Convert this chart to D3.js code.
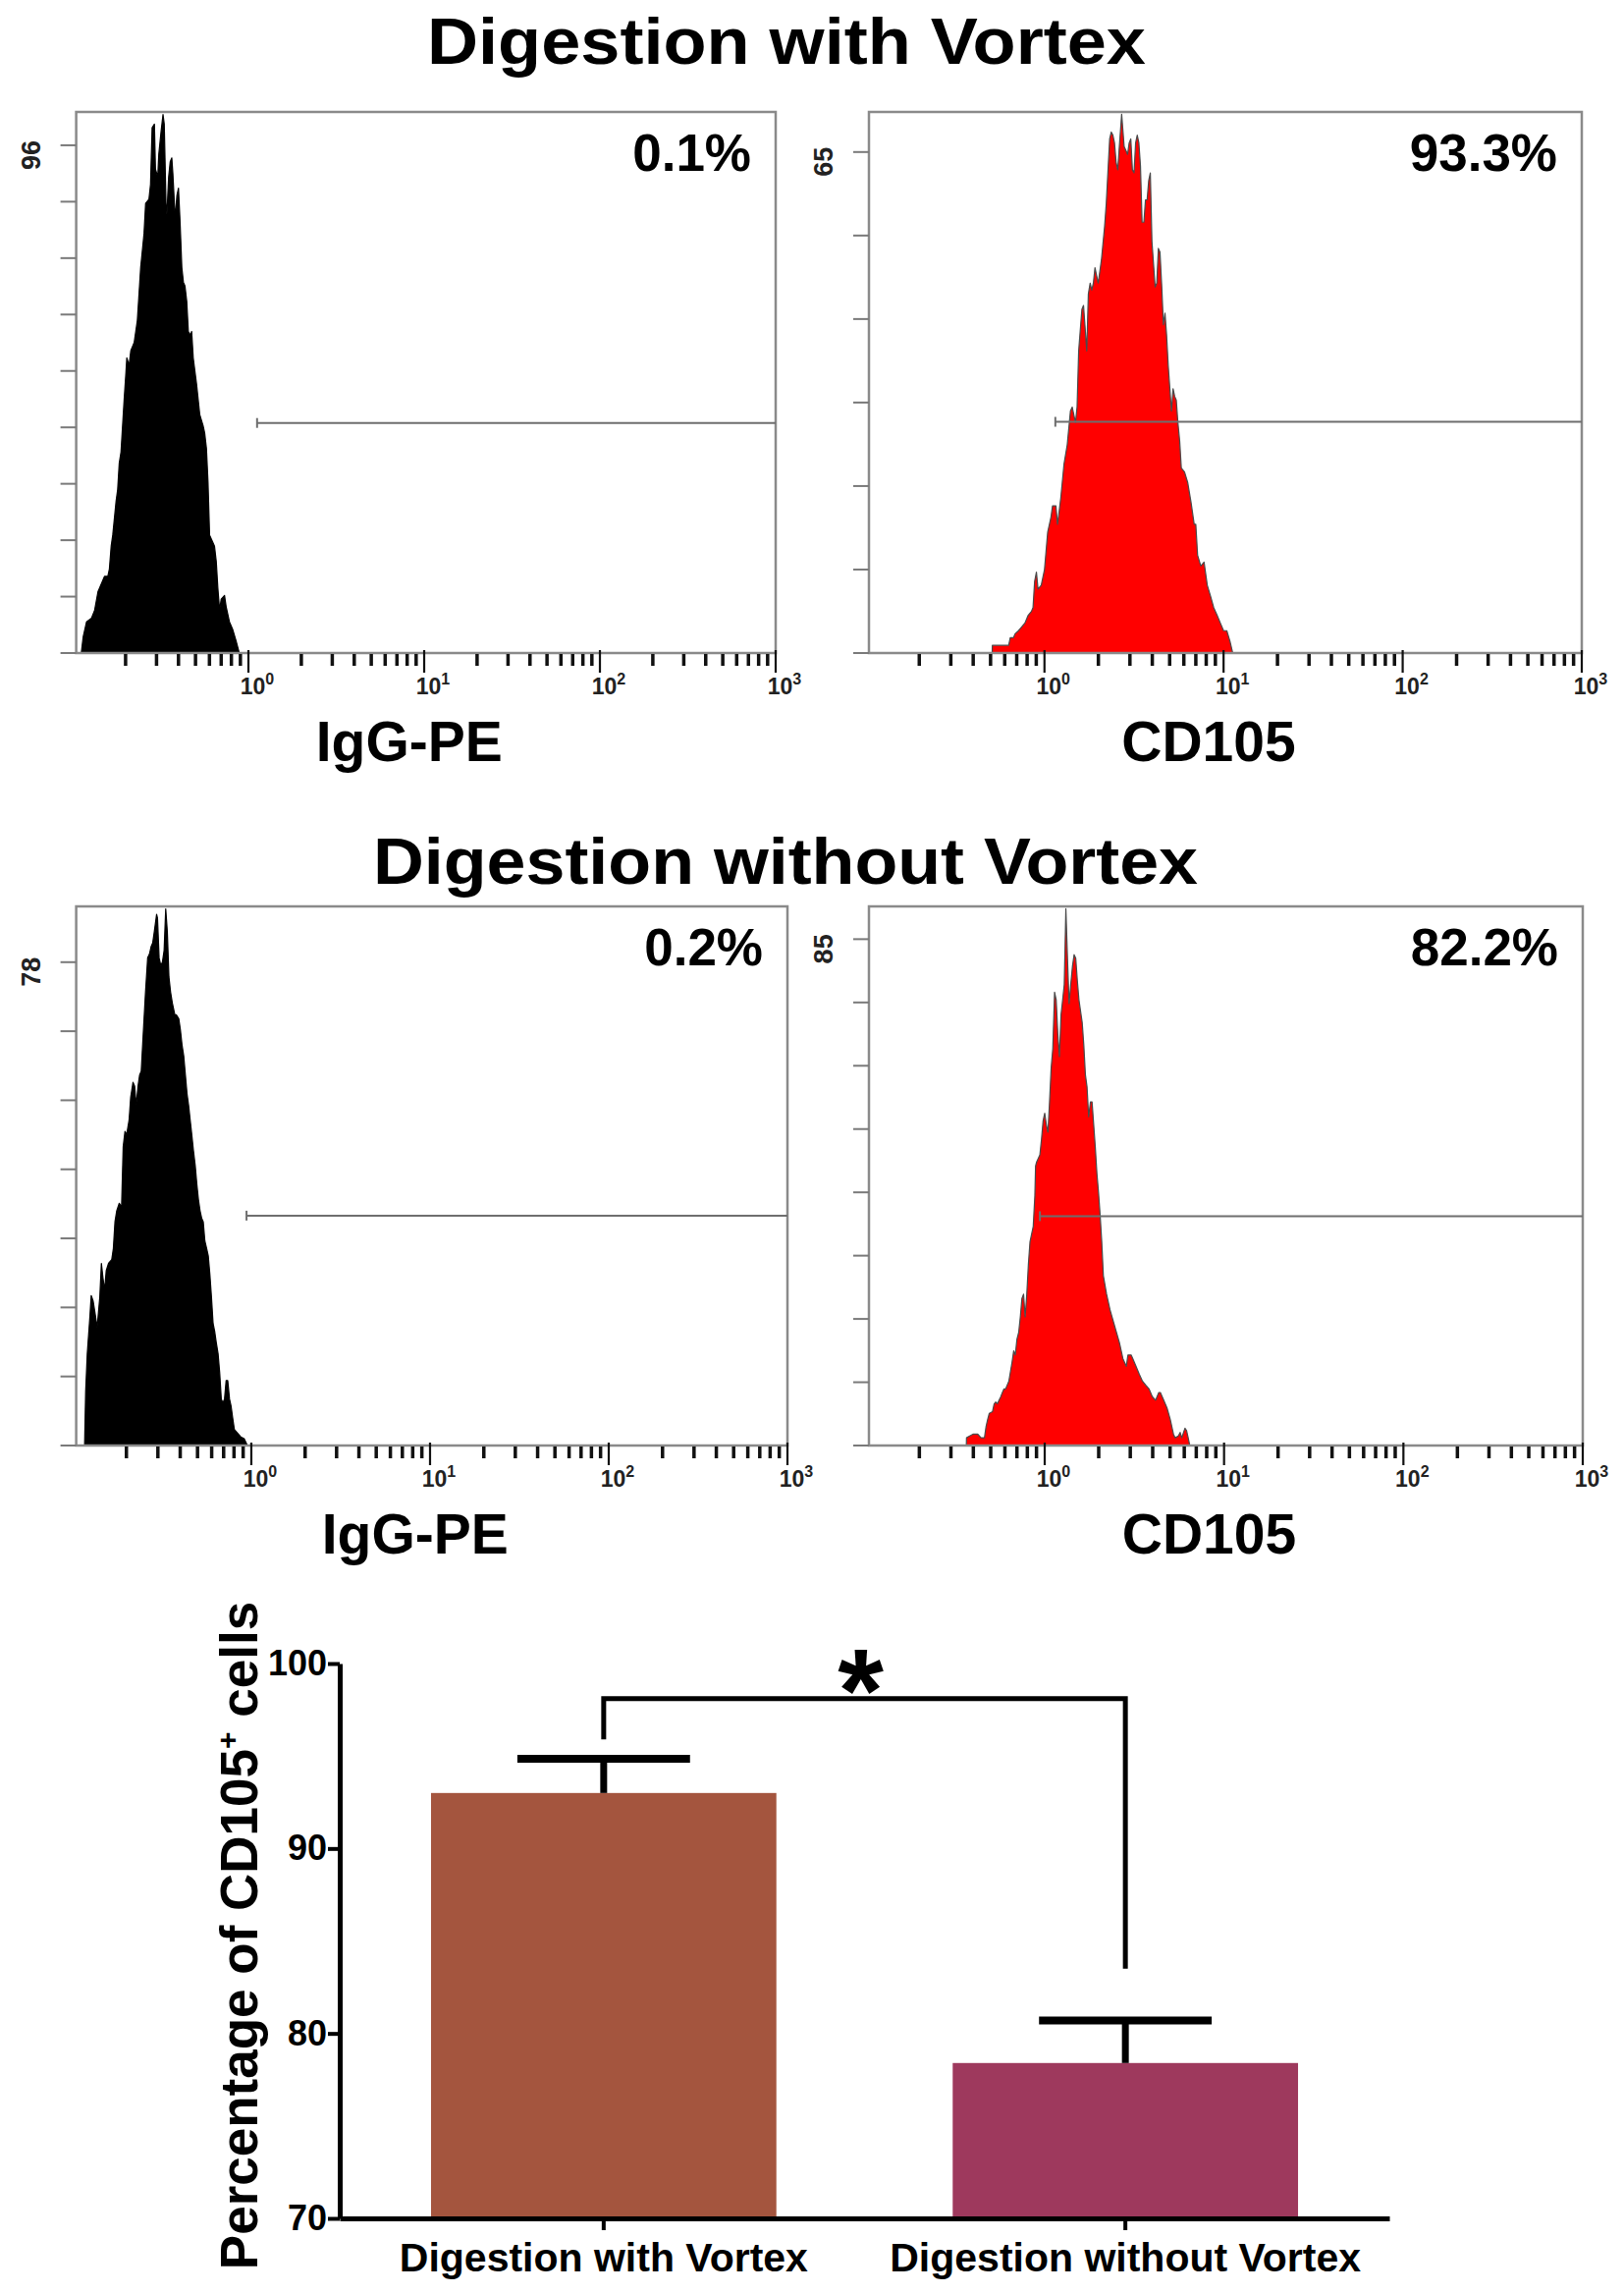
<!DOCTYPE html>
<meta charset="utf-8">
<style>
body { margin: 0; padding: 0; background: #fff; }
text { font-family: "Liberation Sans", Arial, Helvetica, sans-serif; }
.bold { font-weight: bold; }
</style>
<body>
<script src="https://d3js.org/d3.v7.min.js"></script>
<script>
// ---- flow histograms: [log10 fluorescence, count] ----
var igVortex = [[-0.951,0],[-0.940,3.1],[-0.921,5.9],[-0.893,6.6],[-0.875,8.1],[-0.856,11.6],[-0.847,12.3],[-0.819,14.5],[-0.800,14.5],[-0.791,15.9],[-0.781,20.2],[-0.772,22.3],[-0.753,28.7],[-0.744,30.9],[-0.735,35.9],[-0.725,38.0],[-0.707,48.0],[-0.697,53.0],[-0.692,55.8],[-0.679,54.4],[-0.669,57.2],[-0.650,58.7],[-0.632,62.9],[-0.613,72.9],[-0.594,79.3],[-0.585,85.0],[-0.566,85.8],[-0.557,88.6],[-0.548,99.3],[-0.535,100.0],[-0.529,91.5],[-0.516,90.0],[-0.510,94.3],[-0.497,98.6],[-0.486,101.8],[-0.479,100.0],[-0.469,85.0],[-0.464,82.9],[-0.454,90.0],[-0.445,92.9],[-0.436,93.6],[-0.430,90.7],[-0.417,82.2],[-0.407,86.5],[-0.398,87.9],[-0.389,81.5],[-0.379,72.9],[-0.370,70.1],[-0.361,69.4],[-0.351,66.5],[-0.342,60.8],[-0.329,60.1],[-0.323,60.8],[-0.314,55.8],[-0.295,50.8],[-0.277,45.1],[-0.258,43.0],[-0.249,41.6],[-0.239,38.7],[-0.230,32.3],[-0.221,22.3],[-0.202,20.9],[-0.193,20.2],[-0.183,17.3],[-0.174,12.3],[-0.164,8.1],[-0.155,10.2],[-0.136,10.9],[-0.127,8.8],[-0.108,5.9],[-0.090,4.5],[-0.071,2.4],[-0.052,0]];

var cdVortex = [[-0.292,0],[-0.291,1.0],[-0.200,1.0],[-0.191,2.0],[-0.173,2.0],[-0.164,2.5],[-0.145,2.9],[-0.127,3.4],[-0.109,3.9],[-0.091,4.9],[-0.073,5.4],[-0.064,5.9],[-0.055,9.3],[-0.045,10.5],[-0.036,8.3],[-0.018,8.8],[0,10.8],[0.018,15.7],[0.036,17.6],[0.045,19.1],[0.064,19.1],[0.073,16.7],[0.091,20.1],[0.109,24.5],[0.127,27.0],[0.145,31.4],[0.155,31.9],[0.164,30.9],[0.173,29.9],[0.182,31.9],[0.191,39.2],[0.209,44.6],[0.218,45.1],[0.227,42.2],[0.236,39.2],[0.245,46.6],[0.255,48.0],[0.264,47.1],[0.273,48.0],[0.282,50.0],[0.291,49.0],[0.300,48.0],[0.318,51.0],[0.336,55.4],[0.345,58.3],[0.364,66.7],[0.373,67.6],[0.382,67.2],[0.391,66.2],[0.400,63.7],[0.409,62.7],[0.418,65.7],[0.431,69.9],[0.445,65.7],[0.455,65.2],[0.464,64.7],[0.473,66.2],[0.482,66.7],[0.491,62.7],[0.500,62.3],[0.509,66.2],[0.518,67.2],[0.527,66.2],[0.536,63.2],[0.545,55.9],[0.555,55.9],[0.564,58.8],[0.573,58.8],[0.582,61.3],[0.591,62.3],[0.600,53.4],[0.618,47.5],[0.627,48.0],[0.636,52.5],[0.645,52.0],[0.655,47.5],[0.664,42.6],[0.673,44.1],[0.682,41.2],[0.691,37.3],[0.709,31.4],[0.718,34.3],[0.727,33.3],[0.736,32.8],[0.745,29.9],[0.755,27.5],[0.764,24.0],[0.782,23.5],[0.800,22.1],[0.818,19.6],[0.836,16.7],[0.845,16.7],[0.855,12.7],[0.873,11.3],[0.891,11.8],[0.909,8.8],[0.927,7.4],[0.945,5.9],[0.964,4.9],[0.982,3.9],[1.000,2.9],[1.018,2.9],[1.036,1.5],[1.051,0]];

var igNoVortex = [[-0.933,0],[-0.927,8.7],[-0.918,14.8],[-0.903,20.9],[-0.896,24.2],[-0.885,23.3],[-0.872,20.9],[-0.863,19.0],[-0.848,23.9],[-0.839,29.4],[-0.830,27.0],[-0.821,25.1],[-0.812,28.2],[-0.799,29.4],[-0.781,30.0],[-0.772,31.8],[-0.763,36.1],[-0.753,37.9],[-0.739,39.1],[-0.726,38.5],[-0.717,48.2],[-0.707,50.7],[-0.698,50.1],[-0.684,52.5],[-0.675,56.2],[-0.662,58.6],[-0.653,58.0],[-0.644,54.9],[-0.634,58.0],[-0.625,59.8],[-0.616,60.4],[-0.607,65.3],[-0.592,73.2],[-0.580,78.7],[-0.570,79.3],[-0.561,80.5],[-0.552,81.1],[-0.543,82.9],[-0.530,85.7],[-0.525,85.1],[-0.516,78.7],[-0.506,77.4],[-0.497,78.1],[-0.488,79.9],[-0.479,86.6],[-0.470,82.9],[-0.461,75.6],[-0.452,73.2],[-0.442,71.4],[-0.428,69.5],[-0.420,69.5],[-0.406,68.9],[-0.397,67.1],[-0.388,64.7],[-0.378,62.8],[-0.369,59.8],[-0.360,56.8],[-0.351,54.9],[-0.342,52.5],[-0.333,50.1],[-0.324,47.6],[-0.314,45.2],[-0.305,42.2],[-0.296,39.7],[-0.287,37.9],[-0.278,36.7],[-0.269,36.1],[-0.260,33.0],[-0.250,31.8],[-0.241,30.6],[-0.232,27.6],[-0.223,23.9],[-0.214,19.7],[-0.205,18.4],[-0.196,16.6],[-0.186,14.8],[-0.177,11.7],[-0.168,7.5],[-0.159,6.9],[-0.150,7.5],[-0.141,10.5],[-0.132,10.5],[-0.122,7.5],[-0.113,6.3],[-0.104,4.4],[-0.095,2.6],[-0.077,2.0],[-0.059,1.4],[-0.040,1.1],[-0.022,0]];

var cdNoVortex = [[-0.437,0],[-0.436,1.3],[-0.418,1.6],[-0.400,1.9],[-0.373,1.9],[-0.355,1.3],[-0.336,1.3],[-0.327,3.2],[-0.318,4.4],[-0.309,5.4],[-0.291,5.7],[-0.282,7.0],[-0.273,7.3],[-0.264,7.0],[-0.255,7.6],[-0.245,8.2],[-0.236,8.9],[-0.227,9.5],[-0.218,9.5],[-0.200,10.8],[-0.182,14.0],[-0.173,15.9],[-0.164,15.2],[-0.155,17.8],[-0.145,19.0],[-0.136,21.6],[-0.127,24.7],[-0.118,25.4],[-0.109,21.6],[-0.100,25.4],[-0.091,30.4],[-0.082,34.2],[-0.073,35.5],[-0.064,36.8],[-0.055,41.9],[-0.051,46.9],[-0.045,47.6],[-0.027,48.8],[-0.018,51.4],[-0.009,54.5],[0,55.8],[0.009,53.9],[0.018,52.6],[0.027,57.7],[0.036,63.4],[0.045,66.6],[0.055,76.1],[0.064,74.8],[0.073,69.1],[0.082,65.3],[0.091,72.3],[0.100,74.8],[0.109,77.4],[0.118,90.1],[0.127,81.8],[0.136,74.2],[0.145,77.4],[0.155,80.5],[0.164,82.4],[0.173,81.8],[0.182,78.0],[0.191,74.8],[0.200,72.9],[0.209,71.0],[0.218,67.2],[0.227,62.2],[0.236,60.2],[0.245,55.2],[0.255,57.7],[0.264,57.7],[0.273,53.9],[0.282,50.1],[0.291,45.7],[0.300,42.5],[0.309,38.7],[0.318,34.2],[0.327,28.5],[0.345,25.4],[0.364,22.8],[0.382,20.9],[0.400,19.0],[0.418,17.1],[0.436,14.6],[0.455,13.3],[0.464,15.2],[0.482,15.2],[0.491,14.6],[0.509,13.3],[0.527,12.0],[0.545,10.8],[0.564,10.1],[0.582,9.5],[0.600,8.2],[0.618,7.6],[0.636,8.9],[0.645,8.9],[0.664,7.6],[0.682,6.3],[0.700,4.4],[0.718,1.9],[0.727,1.3],[0.745,1.6],[0.755,2.2],[0.764,1.3],[0.782,2.9],[0.791,2.5],[0.800,1.3],[0.809,0]];

// panel annotations, in the order TL, TR, ML, MR
var pctLabels   = ["0.1%", "93.3%", "0.2%", "82.2%"];
var axisLabels  = ["IgG-PE", "CD105", "IgG-PE", "CD105"];
var yTopLabels  = [96, 65, 78, 85];
var yTickCounts = [9, 6, 7, 8];
var yMaxCounts  = [102.3, 70.2, 87.0, 90.5];
var gateStart   = [1.12, 1.15, 0.94, 0.94];   // fluorescence where the M1 marker begins
var gateLevel   = [43.5, 30.0, 37.1, 38.5];   // marker height, counts
var decadeLabels = [0, 1, 2, 3];
var titles = ["Digestion with Vortex", "Digestion without Vortex"];

// ---- bar chart ----
var categories = ["Digestion with Vortex", "Digestion without Vortex"];
var means = [93.0, 78.4];
var sems  = [1.85, 2.3];
var barTicks = [70, 80, 90, 100];
var sigLevel = 98.1;
var sigLegEnds = [95.9, 83.5];

var width = 1654, height = 2335;
var font = "'Liberation Sans', Arial, Helvetica, sans-serif";

var svg = d3.select("body").append("svg")
    .attr("width", width)
    .attr("height", height);
svg.append("rect").attr("width", width).attr("height", height).attr("fill", "#fff");

// titles
svg.append("text")
    .attr("class", "bold")
    .attr("x", 801).attr("y", 65)
    .attr("text-anchor", "middle")
    .attr("font-size", 66)
    .attr("textLength", 732)
    .attr("lengthAdjust", "spacingAndGlyphs")
    .text(titles[0]);
svg.append("text")
    .attr("class", "bold")
    .attr("x", 800).attr("y", 900)
    .attr("text-anchor", "middle")
    .attr("font-size", 66)
    .attr("textLength", 840)
    .attr("lengthAdjust", "spacingAndGlyphs")
    .text(titles[1]);

var boxes = [
  [77.6, 114, 790, 665],
  [885, 114, 1611, 665],
  [77.6, 923, 802, 1472],
  [885, 923, 1612, 1472]
];
var hists = [igVortex, cdVortex, igNoVortex, cdNoVortex];
var fills = ["#000", "#ff0000", "#000", "#ff0000"];

hists.forEach(function(h, i) {
  var b = boxes[i];
  var x0 = b[0], y0 = b[1], x1 = b[2], y1 = b[3];
  var x = d3.scaleLog().domain([Math.pow(10, -0.98), 1000]).range([x0, x1]);
  var y = d3.scaleLinear().domain([0, yMaxCounts[i]]).range([y1, y0]);
  var g = svg.append("g");

  var area = d3.area()
      .x(function(d) { return x(Math.pow(10, d[0])); })
      .y0(y(0))
      .y1(function(d) { return y(d[1]); });
  g.append("path")
      .datum(h)
      .attr("d", area)
      .attr("fill", fills[i])
      .attr("stroke", fills[i] == "#000" ? "#000" : "#4a4a4a")
      .attr("stroke-width", 1.2)
      .attr("stroke-linejoin", "round");

  // frame
  g.append("rect")
      .attr("x", x0).attr("y", y0)
      .attr("width", x1 - x0).attr("height", y1 - y0)
      .attr("fill", "none")
      .attr("stroke", "#8a8a8a")
      .attr("stroke-width", 2.5);

  // y ticks
  var n = yTickCounts[i];
  d3.range(n + 1).forEach(function(k) {
    var yy = y(k * yTopLabels[i] / n);
    g.append("line")
        .attr("x1", x0 - 16).attr("x2", x0)
        .attr("y1", yy).attr("y2", yy)
        .attr("stroke", "#7a7a7a").attr("stroke-width", 2);
  });
  g.append("text")
      .attr("class", "bold")
      .attr("transform", "translate(" + (x0 - 37) + "," + (y(yTopLabels[i]) + 10) + ") rotate(-90)")
      .attr("text-anchor", "middle")
      .attr("font-size", 27)
      .attr("fill", "#222")
      .text(yTopLabels[i]);

  // x ticks
  decadeLabels.forEach(function(p) {
    var xx = x(Math.pow(10, p));
    g.append("line")
        .attr("x1", xx).attr("x2", xx)
        .attr("y1", y1 - 3).attr("y2", y1 + 20)
        .attr("stroke", "#111").attr("stroke-width", 2.2);
    var t = g.append("text")
        .attr("class", "bold")
        .attr("x", xx + 9).attr("y", y1 + 42)
        .attr("text-anchor", "middle")
        .attr("font-size", 23)
        .attr("fill", "#222");
    t.append("tspan").text("10");
    t.append("tspan").attr("dy", -10).attr("font-size", 16).text(p);
  });
  [-1, 0, 1, 2].forEach(function(p) {
    d3.range(2, 10).forEach(function(m) {
      var v = m * Math.pow(10, p);
      if (v <= x.domain()[0]) return;
      var xx = x(v);
      g.append("line")
          .attr("x1", xx).attr("x2", xx)
          .attr("y1", y1 + 1).attr("y2", y1 + 13)
          .attr("stroke", "#111").attr("stroke-width", 3.5);
    });
  });

  // M1 marker
  var gy = y(gateLevel[i]), gx = x(gateStart[i]);
  g.append("line")
      .attr("x1", gx).attr("x2", x1)
      .attr("y1", gy).attr("y2", gy)
      .attr("stroke", "#6e6e6e").attr("stroke-width", 2);
  g.append("line")
      .attr("x1", gx).attr("x2", gx)
      .attr("y1", gy - 5).attr("y2", gy + 5)
      .attr("stroke", "#6e6e6e").attr("stroke-width", 2);

  g.append("text")
      .attr("class", "bold")
      .attr("x", x1 - 25).attr("y", y0 + 60)
      .attr("text-anchor", "end")
      .attr("font-size", 53)
      .text(pctLabels[i]);

  g.append("text")
      .attr("class", "bold")
      .attr("x", (x0 + x1) / 2 - 17).attr("y", y1 + 110)
      .attr("text-anchor", "middle")
      .attr("font-size", 57)
      .text(axisLabels[i]);
});

// ---- bar chart ----
var xBar = d3.scaleBand()
    .domain(categories)
    .range([346, 1415])
    .paddingInner(0.338)
    .paddingOuter(0.175);
var yBar = d3.scaleLinear().domain([70, 100]).range([2259, 1694]);
var barColors = ["#a4553e", "#9e395d"];

var bars = svg.append("g");
bars.selectAll("rect.bar")
  .data(categories)
  .enter().append("rect")
    .attr("class", "bar")
    .attr("x", function(d) { return xBar(d); })
    .attr("y", function(d, i) { return yBar(means[i]); })
    .attr("width", xBar.bandwidth())
    .attr("height", function(d, i) { return yBar(70) - yBar(means[i]); })
    .attr("fill", function(d, i) { return barColors[i]; });

categories.forEach(function(c, i) {
  var cx = xBar(c) + xBar.bandwidth() / 2;
  var half = xBar.bandwidth() * 0.25;
  var top = yBar(means[i] + sems[i]);
  bars.append("line")
      .attr("x1", cx).attr("x2", cx)
      .attr("y1", yBar(means[i])).attr("y2", top)
      .attr("stroke", "#000").attr("stroke-width", 7);
  bars.append("line")
      .attr("x1", cx - half).attr("x2", cx + half)
      .attr("y1", top).attr("y2", top)
      .attr("stroke", "#000").attr("stroke-width", 8);
});

var yAxis = svg.append("g")
    .attr("transform", "translate(346,0)")
    .call(d3.axisLeft(yBar).tickValues(barTicks).tickSize(12).tickSizeOuter(0).tickPadding(1));
yAxis.select(".domain").attr("stroke", "#000").attr("stroke-width", 5);
yAxis.selectAll(".tick line").attr("stroke", "#000").attr("stroke-width", 4);
yAxis.selectAll(".tick text")
    .attr("font-family", font).attr("font-weight", "bold")
    .attr("font-size", 36).attr("fill", "#000");

var xAxis = svg.append("g")
    .attr("transform", "translate(0,2259)")
    .call(d3.axisBottom(xBar).tickSize(12).tickSizeOuter(0).tickPadding(13));
xAxis.select(".domain").attr("stroke", "#000").attr("stroke-width", 5);
xAxis.selectAll(".tick line").attr("stroke", "#000").attr("stroke-width", 4);
xAxis.selectAll(".tick text")
    .attr("font-family", font).attr("font-weight", "bold")
    .attr("font-size", 41).attr("fill", "#000");

// significance bracket
var c1 = xBar(categories[0]) + xBar.bandwidth() / 2;
var c2 = xBar(categories[1]) + xBar.bandwidth() / 2;
svg.append("path")
    .attr("d", "M" + c1 + "," + yBar(sigLegEnds[0]) + "V" + yBar(sigLevel) + "H" + c2 + "V" + yBar(sigLegEnds[1]))
    .attr("fill", "none")
    .attr("stroke", "#000")
    .attr("stroke-width", 5);
svg.append("text")
    .attr("class", "bold")
    .attr("x", (c1 + c2) / 2 - 4).attr("y", 1763)
    .attr("text-anchor", "middle")
    .attr("font-size", 120)
    .text("*");

var yl = svg.append("text")
    .attr("class", "bold")
    .attr("transform", "translate(262,1971) rotate(-90)")
    .attr("text-anchor", "middle")
    .attr("font-size", 53);
yl.append("tspan").text("Percentage of CD105");
yl.append("tspan").attr("dy", -20).attr("font-size", 30).text("+");
yl.append("tspan").attr("dy", 20).text(" cells");
</script>
</body>
